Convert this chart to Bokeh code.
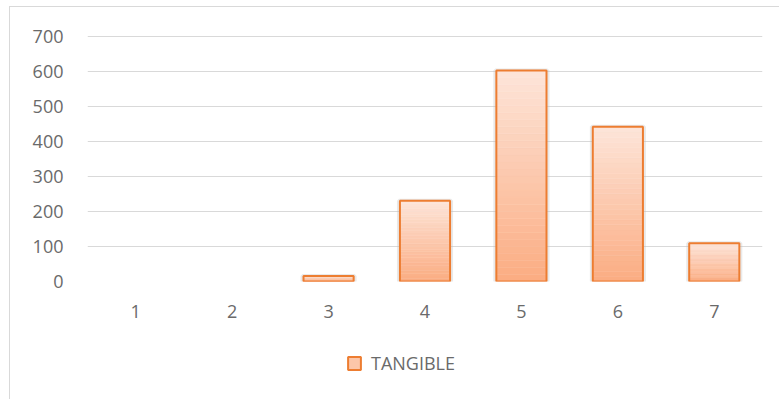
from bokeh.plotting import figure
from bokeh.layouts import column
from bokeh.models import (ColumnDataSource, FactorRange, Range1d, FixedTicker,
                          Legend, LegendItem)
from bokeh.embed import file_html
from bokeh.resources import INLINE

# ---- data ----
categories = ["1", "2", "3", "4", "5", "6", "7"]
tangible = [0, 0, 16, 231, 603, 442, 109]
y_ticks = [0, 100, 200, 300, 400, 500, 600, 700]
series_name = "TANGIBLE"

# ---- style ----
FONT = "Open Sans"
TXT = "#6a6a6a"
EDGE = "#ed7d31"
TOP_RGB = (253, 229, 217)
BOT_RGB = (251, 172, 130)
N_BANDS = 30
BAR_W = 0.52

p = figure(width=770, height=323, x_range=FactorRange(*categories, range_padding=0),
           y_range=Range1d(0, 703), output_backend="svg", toolbar_location=None,
           min_border_left=77, min_border_right=18, min_border_top=28, min_border_bottom=49)
p.outline_line_color = None
p.background_fill_color = "white"
p.border_fill_color = "white"

# gradient bands derived from the bar values
xs, bottoms, tops, colors = [], [], [], []
for c, v in zip(categories, tangible):
    if v <= 0:
        continue
    for k in range(N_BANDS):
        f = (k + 0.5) / N_BANDS  # 0 bottom -> 1 top
        rgb = tuple(int(round(BOT_RGB[j] + (TOP_RGB[j] - BOT_RGB[j]) * f)) for j in range(3))
        xs.append(c)
        bottoms.append(v * k / N_BANDS)
        tops.append(v * (k + 1) / N_BANDS)
        colors.append("#%02x%02x%02x" % rgb)

band_src = ColumnDataSource(dict(x=xs, bottom=bottoms, top=tops, color=colors))
nz = [(c, v) for c, v in zip(categories, tangible) if v > 0]
bar_src = ColumnDataSource(dict(x=[c for c, _ in nz], top=[v for _, v in nz]))

# soft shadow
p.vbar(x="x", top="top", width=BAR_W + 0.02, source=bar_src, fill_color=None,
       line_color="#bfbfbf", line_alpha=0.35, line_width=4)
p.vbar(x="x", bottom="bottom", top="top", width=BAR_W, source=band_src,
       fill_color="color", line_color="color", line_width=0.5)
bars = p.vbar(x="x", top="top", width=BAR_W, source=bar_src, fill_color=None,
              line_color=EDGE, line_width=2)

p.yaxis.ticker = FixedTicker(ticks=y_ticks)
for ax in (p.xaxis[0], p.yaxis[0]):
    ax.axis_line_color = None
    ax.major_tick_line_color = None
    ax.minor_tick_line_color = None
    ax.major_label_text_font = FONT
    ax.major_label_text_font_size = "18px"
    ax.major_label_text_color = TXT
p.yaxis.major_label_standoff = 18
p.xaxis.major_label_standoff = 17

p.xgrid.grid_line_color = None
p.ygrid.grid_line_color = "#d9d9d9"
p.ygrid.grid_line_width = 1

# legend strip below the chart (legend swatch uses the series' colours)
lg = figure(width=770, height=69, x_range=Range1d(0, 1), y_range=Range1d(0, 1),
            x_axis_type=None, y_axis_type=None, output_backend="svg", toolbar_location=None,
            min_border=0)
lg.outline_line_color = None
lg.grid.grid_line_color = None
swatch_src = ColumnDataSource(dict(x=[float("nan")], bottom=[float("nan")], top=[float("nan")]))
leg_r = lg.vbar(x="x", bottom="bottom", top="top", width=0.1, source=swatch_src,
                fill_color="#fcc6a9", line_color=EDGE, line_width=2)
legend = Legend(items=[LegendItem(label=series_name, renderers=[leg_r], index=0)],
                location=(259, 24), orientation="horizontal",
                label_text_font=FONT, label_text_font_size="18px", label_text_color=TXT,
                glyph_width=16, glyph_height=16, label_standoff=9,
                padding=0, margin=0, border_line_color=None, background_fill_alpha=0)
lg.add_layout(legend)

layout = column(p, lg, spacing=0)
layout.margin = (6, 0, 0, 9)
layout.styles = {"border-left": "1px solid #d9d9d9", "border-top": "1px solid #d9d9d9"}

open("out.html", "w").write(file_html(layout, INLINE))
